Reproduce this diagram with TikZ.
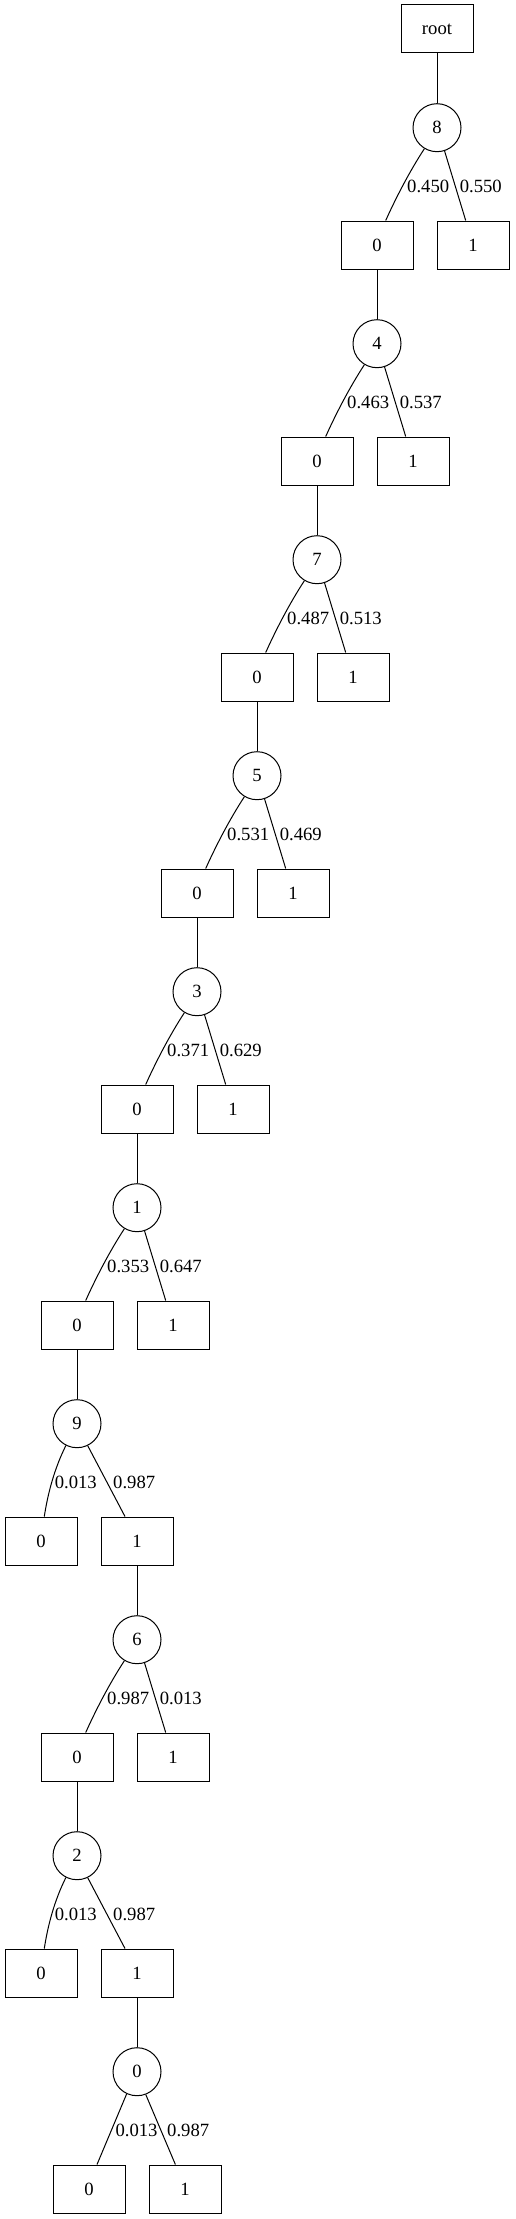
\documentclass[tikz,border=0pt]{standalone}
\usepackage{fontspec}
\setmainfont{Liberation Serif}
\usetikzlibrary{calc}
\begin{document}
\begin{tikzpicture}[x=0.75pt,y=-0.75pt,
  every path/.style={line width=0.75pt},
  leaf/.style={draw,rectangle,minimum width=54pt,minimum height=36pt,inner sep=0pt,font=\fontsize{14pt}{16pt}\selectfont},
  var/.style={draw,circle,minimum size=36pt,inner sep=0pt,font=\fontsize{14pt}{16pt}\selectfont},
  elab/.style={anchor=west,inner sep=0pt,font=\fontsize{14pt}{16pt}\selectfont}]
\useasboundingbox (0,0) rectangle (515,2219);
\fill[white] (0,0) rectangle (515,2219);

\node[leaf] (root) at (437,29) {root};

% level 1: 8
\node[var] (c1) at (437,127.7) {8};
\node[leaf] (l1) at (377,245) {0};
\node[leaf] (r1) at (473,245) {1};
% level 2: 4
\node[var] (c2) at (377,343.7) {4};
\node[leaf] (l2) at (317,461) {0};
\node[leaf] (r2) at (413,461) {1};
% level 3: 7
\node[var] (c3) at (317,559.7) {7};
\node[leaf] (l3) at (257,677) {0};
\node[leaf] (r3) at (353,677) {1};
% level 4: 5
\node[var] (c4) at (257,775.7) {5};
\node[leaf] (l4) at (197,893) {0};
\node[leaf] (r4) at (293,893) {1};
% level 5: 3
\node[var] (c5) at (197,991.7) {3};
\node[leaf] (l5) at (137,1109) {0};
\node[leaf] (r5) at (233,1109) {1};
% level 6: 1
\node[var] (c6) at (137,1207.7) {1};
\node[leaf] (l6) at (77,1325) {0};
\node[leaf] (r6) at (173,1325) {1};
% level 7: 9
\node[var] (c7) at (77,1423.7) {9};
\node[leaf] (l7) at (41,1541) {0};
\node[leaf] (r7) at (137,1541) {1};
% level 8: 6
\node[var] (c8) at (137,1639.7) {6};
\node[leaf] (l8) at (77,1757) {0};
\node[leaf] (r8) at (173,1757) {1};
% level 9: 2
\node[var] (c9) at (77,1855.7) {2};
\node[leaf] (l9) at (41,1973) {0};
\node[leaf] (r9) at (137,1973) {1};
% level 10: 0
\node[var] (c10) at (137,2071.7) {0};
\node[leaf] (l10) at (89,2189) {0};
\node[leaf] (r10) at (185,2189) {1};

% vertical connectors
\draw (root) -- (c1);
\draw (l1) -- (c2);
\draw (l2) -- (c3);
\draw (l3) -- (c4);
\draw (l4) -- (c5);
\draw (l5) -- (c6);
\draw (l6) -- (c7);
\draw (r7) -- (c8);
\draw (l8) -- (c9);
\draw (r9) -- (c10);

% pattern A edges
\foreach \i/\a/\b in {1/0.450/0.550, 2/0.463/0.537, 3/0.487/0.513, 4/0.531/0.469, 5/0.371/0.629, 6/0.353/0.647, 8/0.987/0.013} {
  \draw (c\i.-121) .. controls +(-15,23) and +(10.4,-23) .. ($(l\i.north)+(8.7,0)$);
  \draw (c\i.-72.4) -- ($(r\i.north)+(-7.3,0)$);
  \node[elab] at ($(c\i.center)+(-30.3,58.3)$) {\a};
  \node[elab] at ($(c\i.center)+(22.3,58.3)$) {\b};
}
% pattern B edges
\foreach \i/\a/\b in {7/0.013/0.987, 9/0.013/0.987} {
  \draw (c\i.-117) .. controls +(-11.5,23) and +(3.5,-23) .. ($(l\i.north)+(3.3,0)$);
  \draw (c\i.-64) -- ($(r\i.north)+(-12,0)$);
  \node[elab] at ($(c\i.center)+(-22.7,58.3)$) {\a};
  \node[elab] at ($(c\i.center)+(35.7,58.3)$) {\b};
}
% pattern C edges
\draw (c10.-115) -- ($(l10.north)+(8,0)$);
\draw (c10.-69) -- ($(r10.north)+(-9.6,0)$);
\node[elab] at ($(c10.center)+(-22,58.3)$) {0.013};
\node[elab] at ($(c10.center)+(29.7,58.3)$) {0.987};
\end{tikzpicture}
\end{document}
